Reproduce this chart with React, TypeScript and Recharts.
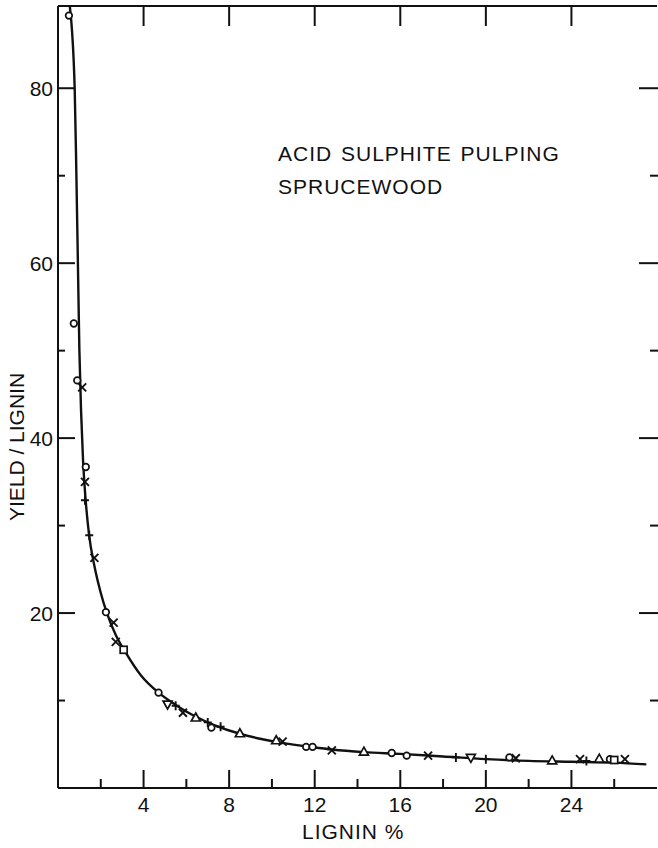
import React from "react"
import { ComposedChart, Line, Scatter, XAxis, YAxis } from "recharts"

type Pt = { x: number; y: number }

// fitted curve
const curve: Pt[] = [
  { x: 0.55, y: 89.4 }, { x: 0.78, y: 80 }, { x: 0.86, y: 70 }, { x: 0.93, y: 60 },
  { x: 1.0, y: 50 }, { x: 1.08, y: 43 }, { x: 1.17, y: 37.5 }, { x: 1.28, y: 33.3 },
  { x: 1.45, y: 29 }, { x: 1.7, y: 25.4 }, { x: 2.0, y: 22.3 }, { x: 2.3, y: 19.9 },
  { x: 2.7, y: 17.5 }, { x: 3.16, y: 15.5 }, { x: 3.9, y: 12.8 }, { x: 4.7, y: 10.9 },
  { x: 5.5, y: 9.5 }, { x: 6.4, y: 8.2 }, { x: 7.3, y: 7.2 }, { x: 8.5, y: 6.2 },
  { x: 9.5, y: 5.6 }, { x: 10.6, y: 5.1 }, { x: 11.8, y: 4.7 }, { x: 12.8, y: 4.4 },
  { x: 14.3, y: 4.1 }, { x: 16.0, y: 3.9 }, { x: 18.0, y: 3.6 }, { x: 20.0, y: 3.3 },
  { x: 22.0, y: 3.1 }, { x: 24.0, y: 3.0 }, { x: 26.0, y: 2.9 }, { x: 27.5, y: 2.7 },
]

// measured points, one array per marker
const circles: Pt[] = [
  { x: 0.51, y: 88.3 }, { x: 0.74, y: 53.1 }, { x: 0.9, y: 46.6 }, { x: 1.3, y: 36.7 },
  { x: 2.24, y: 20.1 }, { x: 4.7, y: 10.9 }, { x: 7.17, y: 6.9 }, { x: 11.6, y: 4.7 },
  { x: 11.9, y: 4.7 }, { x: 15.6, y: 4.0 }, { x: 16.3, y: 3.7 }, { x: 21.1, y: 3.5 },
  { x: 25.8, y: 3.3 },
]
const crosses: Pt[] = [
  { x: 1.13, y: 45.8 }, { x: 1.26, y: 35 }, { x: 1.7, y: 26.3 }, { x: 2.6, y: 18.9 },
  { x: 2.7, y: 16.7 }, { x: 5.84, y: 8.6 }, { x: 10.5, y: 5.3 }, { x: 12.8, y: 4.3 },
  { x: 17.3, y: 3.7 }, { x: 21.4, y: 3.4 }, { x: 24.4, y: 3.3 }, { x: 26.5, y: 3.3 },
]
const pluses: Pt[] = [
  { x: 1.26, y: 32.9 }, { x: 1.46, y: 28.9 }, { x: 5.5, y: 9.4 }, { x: 7.0, y: 7.5 },
  { x: 7.6, y: 7.0 }, { x: 18.6, y: 3.5 }, { x: 20.0, y: 3.3 }, { x: 24.7, y: 3.1 },
]
const triangles: Pt[] = [
  { x: 6.44, y: 8.0 }, { x: 8.5, y: 6.2 }, { x: 10.2, y: 5.4 }, { x: 14.3, y: 4.1 },
  { x: 23.1, y: 3.1 }, { x: 25.3, y: 3.3 },
]
const downTriangles: Pt[] = [{ x: 5.12, y: 9.6 }, { x: 19.3, y: 3.5 }]
const squares: Pt[] = [{ x: 3.07, y: 15.8 }, { x: 26.0, y: 3.2 }]

const xTicks = [2, 4, 6, 8, 10, 12, 14, 16, 18, 20, 22, 24, 26]
const yTicks = [10, 20, 30, 40, 50, 60, 70, 80]

const FONT = "'Liberation Sans', Arial, sans-serif"
const INK = "#111"

const BottomTick = (p: any) => {
  const v = p.payload.value
  const major = v % 4 === 0
  return (
    <g>
      <line x1={p.x} x2={p.x} y1={p.y} y2={p.y - (major ? 18 : 9)} stroke={INK} strokeWidth={2} />
      {major && (
        <text x={p.x} y={p.y + 24} textAnchor="middle" fontSize={21} fontFamily={FONT} fill={INK}>
          {v}
        </text>
      )}
    </g>
  )
}

const TopTick = (p: any) => {
  const v = p.payload.value
  if (v % 4 !== 0) return <g />
  return <line x1={p.x} x2={p.x} y1={p.y} y2={p.y + 20} stroke={INK} strokeWidth={2} />
}

const LeftTick = (p: any) => {
  const v = p.payload.value
  const major = v % 20 === 0
  return (
    <g>
      <line x1={p.x} x2={p.x + (major ? 17 : 7)} y1={p.y} y2={p.y} stroke={INK} strokeWidth={2} />
      {major && (
        <text x={p.x - 5} y={p.y + 8} textAnchor="end" fontSize={21} fontFamily={FONT} fill={INK}>
          {v}
        </text>
      )}
    </g>
  )
}

const RightTick = (p: any) => {
  const major = p.payload.value % 20 === 0
  return <line x1={p.x + 1} x2={p.x - (major ? 18 : 7)} y1={p.y} y2={p.y} stroke={INK} strokeWidth={2} />
}

const Circle = (p: any) => <circle cx={p.cx} cy={p.cy} r={3.3} fill="#fff" stroke={INK} strokeWidth={1.7} />
const Cross = (p: any) => (
  <path d={`M${p.cx - 4},${p.cy - 4}L${p.cx + 4},${p.cy + 4}M${p.cx - 4},${p.cy + 4}L${p.cx + 4},${p.cy - 4}`} stroke={INK} strokeWidth={1.9} />
)
const Plus = (p: any) => (
  <path d={`M${p.cx},${p.cy - 4.5}L${p.cx},${p.cy + 4.5}M${p.cx - 4},${p.cy}L${p.cx + 4},${p.cy}`} stroke={INK} strokeWidth={1.9} />
)
const Tri = (p: any) => (
  <path d={`M${p.cx},${p.cy - 5}L${p.cx + 4.5},${p.cy + 3}L${p.cx - 4.5},${p.cy + 3}Z`} fill="#fff" stroke={INK} strokeWidth={1.7} />
)
const DownTri = (p: any) => (
  <path d={`M${p.cx},${p.cy + 5}L${p.cx + 4.5},${p.cy - 3}L${p.cx - 4.5},${p.cy - 3}Z`} fill="#fff" stroke={INK} strokeWidth={1.7} />
)
const Sq = (p: any) => (
  <rect x={p.cx - 3.5} y={p.cy - 3.5} width={7} height={7} fill="#fff" stroke={INK} strokeWidth={1.7} />
)

export default function App() {
  return (
    <div style={{ position: "absolute", left: 0, top: 0, width: 658, height: 848, background: "#fff", fontFamily: FONT, color: INK }}>
      <ComposedChart width={658} height={848} margin={{ top: 5, right: 0, bottom: 0, left: 0 }}>
        <XAxis
          type="number"
          dataKey="x"
          domain={[0, 28]}
          ticks={xTicks}
          interval={0}
          height={60}
          tickSize={0}
          tickMargin={0}
          tick={<BottomTick />}
          axisLine={{ stroke: INK, strokeWidth: 2 }}
          tickLine={false}
          allowDataOverflow
        />
        <XAxis
          xAxisId="top"
          orientation="top"
          type="number"
          dataKey="x"
          domain={[0, 28]}
          ticks={xTicks}
          interval={0}
          height={1}
          tickSize={0}
          tickMargin={0}
          tick={<TopTick />}
          axisLine={{ stroke: INK, strokeWidth: 2 }}
          tickLine={false}
          allowDataOverflow
        />
        <YAxis
          type="number"
          dataKey="y"
          domain={[0, 89.4]}
          ticks={yTicks}
          interval={0}
          width={58}
          tickSize={0}
          tickMargin={0}
          tick={<LeftTick />}
          axisLine={{ stroke: INK, strokeWidth: 2 }}
          tickLine={false}
          allowDataOverflow
        />
        <YAxis
          yAxisId="right"
          orientation="right"
          type="number"
          dataKey="y"
          domain={[0, 89.4]}
          ticks={yTicks}
          interval={0}
          width={1}
          tickSize={0}
          tickMargin={0}
          tick={<RightTick />}
          axisLine={false}
          tickLine={false}
          allowDataOverflow
        />
        <Line data={curve} dataKey="y" type="monotone" stroke={INK} strokeWidth={2.4} dot={false} isAnimationActive={false} />
        <Line xAxisId="top" yAxisId="right" data={curve} dataKey="y" stroke="none" dot={false} isAnimationActive={false} />
        <Scatter data={circles} dataKey="y" shape={<Circle />} isAnimationActive={false} />
        <Scatter data={crosses} dataKey="y" shape={<Cross />} isAnimationActive={false} />
        <Scatter data={pluses} dataKey="y" shape={<Plus />} isAnimationActive={false} />
        <Scatter data={triangles} dataKey="y" shape={<Tri />} isAnimationActive={false} />
        <Scatter data={downTriangles} dataKey="y" shape={<DownTri />} isAnimationActive={false} />
        <Scatter data={squares} dataKey="y" shape={<Sq />} isAnimationActive={false} />
      </ComposedChart>

      <div style={{ position: "absolute", left: 278, top: 142, fontSize: 21, letterSpacing: 1, whiteSpace: "nowrap", lineHeight: "24px", wordSpacing: 2 }}>
        ACID SULPHITE PULPING
      </div>
      <div style={{ position: "absolute", left: 278, top: 175, fontSize: 21, letterSpacing: 1, whiteSpace: "nowrap", lineHeight: "24px" }}>
        SPRUCEWOOD
      </div>
      <div style={{ position: "absolute", left: 302, top: 820, fontSize: 21, letterSpacing: 1, whiteSpace: "nowrap", lineHeight: "24px" }}>
        LIGNIN %
      </div>
      <div
        style={{
          position: "absolute",
          left: 17,
          top: 447,
          fontSize: 21,
          whiteSpace: "nowrap",
          lineHeight: "24px",
          transform: "translate(-50%, -50%) rotate(-90deg)",
        }}
      >
        YIELD / LIGNIN
      </div>
    </div>
  )
}
